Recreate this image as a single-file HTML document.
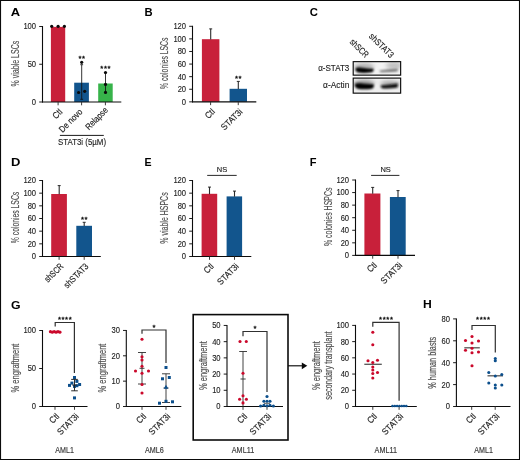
<!DOCTYPE html>
<html lang="en"><head><meta charset="utf-8"><title>Figure</title>
<style>
html,body{margin:0;padding:0;background:#fff;}
body{width:520px;height:460px;overflow:hidden;}
svg{display:block;font-family:"Liberation Sans",Arial,Helvetica,sans-serif;}
</style></head><body>
<svg width="520" height="460" viewBox="0 0 520 460">
<rect width="520" height="460" fill="#fff"/>
<line x1="0" y1="0.52" x2="520" y2="0.52" stroke="#0a0a0a" stroke-width="1.06" />
<line x1="0.54" y1="0" x2="0.54" y2="460" stroke="#0a0a0a" stroke-width="1.06" />
<line x1="0" y1="459.46" x2="520" y2="459.46" stroke="#0a0a0a" stroke-width="1.06" />
<line x1="519.48" y1="0" x2="519.48" y2="460" stroke="#0a0a0a" stroke-width="1.06" />
<text transform="translate(10.83 15.85) scale(1.099 1)" font-size="11.8" font-weight="bold" fill="#000">A</text>
<text transform="translate(144.5 15.85) scale(0.952 1)" font-size="11.8" font-weight="bold" fill="#000">B</text>
<text transform="translate(309.69 15.8) scale(0.959 1)" font-size="11.8" font-weight="bold" fill="#000">C</text>
<text transform="translate(11 166.15) scale(1.100 1)" font-size="11.8" font-weight="bold" fill="#000">D</text>
<text transform="translate(144.59 166.15) scale(0.899 1)" font-size="11.8" font-weight="bold" fill="#000">E</text>
<text transform="translate(309.81 166.15) scale(0.936 1)" font-size="11.8" font-weight="bold" fill="#000">F</text>
<text transform="translate(11.05 308.6) scale(1.042 1)" font-size="11.8" font-weight="bold" fill="#000">G</text>
<text transform="translate(423.04 308.3) scale(1.030 1)" font-size="11.8" font-weight="bold" fill="#000">H</text>
<rect x="50.9" y="26.9" width="14.3" height="75.1" fill="#C8203A" />
<rect x="74.2" y="82.7" width="14.7" height="19.3" fill="#12558D" />
<rect x="98.2" y="83.5" width="14.5" height="18.5" fill="#37B34A" />
<line x1="42.5" y1="26" x2="42.5" y2="102.5" stroke="#0c0c0c" stroke-width="1.1" />
<line x1="42" y1="102" x2="121.3" y2="102" stroke="#0c0c0c" stroke-width="1.15" />
<line x1="39.2" y1="26.5" x2="42.5" y2="26.5" stroke="#111" stroke-width="0.95" />
<text transform="translate(36.1 29.4) scale(0.930 1)" font-size="8.2" text-anchor="end" fill="#1c1c1c" stroke="#1c1c1c" stroke-width="0.12">100</text>
<line x1="39.2" y1="64.25" x2="42.5" y2="64.25" stroke="#111" stroke-width="0.95" />
<text transform="translate(36.1 67.15) scale(0.930 1)" font-size="8.2" text-anchor="end" fill="#1c1c1c" stroke="#1c1c1c" stroke-width="0.12">50</text>
<line x1="39.2" y1="102" x2="42.5" y2="102" stroke="#111" stroke-width="0.95" />
<text transform="translate(36.1 104.9) scale(0.930 1)" font-size="8.2" text-anchor="end" fill="#1c1c1c" stroke="#1c1c1c" stroke-width="0.12">0</text>
<line x1="58.1" y1="102" x2="58.1" y2="105.3" stroke="#333" stroke-width="0.95" />
<text transform="translate(62.9 112.5) rotate(-45) scale(0.891 1)" font-size="9.0" text-anchor="end" fill="#1c1c1c" stroke="#1c1c1c" stroke-width="0.15">Ctl</text>
<line x1="81.6" y1="102" x2="81.6" y2="105.3" stroke="#333" stroke-width="0.95" />
<text transform="translate(83 112.4) rotate(-45) scale(0.865 1)" font-size="9.0" text-anchor="end" fill="#1c1c1c" stroke="#1c1c1c" stroke-width="0.15">De novo</text>
<line x1="105.4" y1="102" x2="105.4" y2="105.3" stroke="#333" stroke-width="0.95" />
<text transform="translate(108.5 110.8) rotate(-45) scale(0.842 1)" font-size="9.0" text-anchor="end" fill="#1c1c1c" stroke="#1c1c1c" stroke-width="0.15">Relapse</text>
<text transform="translate(18.5 63.6) rotate(-90) scale(0.680 1)" font-size="10.4" text-anchor="middle" fill="#505050" stroke="#505050" stroke-width="0.16">% viable LSCs</text>
<circle cx="51.7" cy="26.3" r="1.6" fill="#0a0a0a"/>
<circle cx="58.1" cy="26.3" r="1.6" fill="#0a0a0a"/>
<circle cx="64.4" cy="26.3" r="1.6" fill="#0a0a0a"/>
<line x1="81.7" y1="64.7" x2="81.7" y2="99.3" stroke="#111" stroke-width="0.85" />
<line x1="80.3" y1="64.7" x2="83.1" y2="64.7" stroke="#111" stroke-width="0.85" />
<line x1="80.3" y1="99.3" x2="83.1" y2="99.3" stroke="#111" stroke-width="0.85" />
<circle cx="81.7" cy="62.3" r="1.6" fill="#0a0a0a"/>
<circle cx="78.6" cy="92.5" r="1.6" fill="#0a0a0a"/>
<circle cx="84.7" cy="91.3" r="1.6" fill="#0a0a0a"/>
<line x1="105.5" y1="72.6" x2="105.5" y2="92.5" stroke="#111" stroke-width="0.85" />
<line x1="104.1" y1="72.6" x2="106.9" y2="72.6" stroke="#111" stroke-width="0.85" />
<line x1="104.1" y1="92.5" x2="106.9" y2="92.5" stroke="#111" stroke-width="0.85" />
<circle cx="105.5" cy="72.6" r="1.6" fill="#0a0a0a"/>
<circle cx="105.5" cy="84.4" r="1.6" fill="#0a0a0a"/>
<circle cx="105.5" cy="92.4" r="1.6" fill="#0a0a0a"/>
<text x="82.1" y="60.6" font-size="7.7" text-anchor="middle" letter-spacing="0.6" fill="#0a0a0a" stroke="#0a0a0a" stroke-width="0.3">**</text>
<text x="105.7" y="70.5" font-size="7.7" text-anchor="middle" letter-spacing="0.6" fill="#0a0a0a" stroke="#0a0a0a" stroke-width="0.3">***</text>
<line x1="59.9" y1="135.4" x2="103.8" y2="135.4" stroke="#1a1a1a" stroke-width="1" />
<text transform="translate(82 145.4) scale(0.909 1)" font-size="8.7" text-anchor="middle" fill="#1c1c1c" stroke="#1c1c1c" stroke-width="0.12">STAT3i (5µM)</text>
<rect x="201.9" y="39.2" width="17.5" height="62.6" fill="#C8203A" />
<rect x="229.6" y="88.8" width="17.4" height="13" fill="#12558D" />
<line x1="210.7" y1="28.8" x2="210.7" y2="39.5" stroke="#2c2c2c" stroke-width="1.1" />
<line x1="209.2" y1="28.9" x2="212.2" y2="28.9" stroke="#2c2c2c" stroke-width="1.0" />
<line x1="238.3" y1="81.3" x2="238.3" y2="89" stroke="#2c2c2c" stroke-width="1.1" />
<line x1="236.8" y1="81.4" x2="239.8" y2="81.4" stroke="#2c2c2c" stroke-width="1.0" />
<line x1="192.5" y1="25.8" x2="192.5" y2="102.35" stroke="#0c0c0c" stroke-width="1.1" />
<line x1="192" y1="101.85" x2="256.3" y2="101.85" stroke="#0c0c0c" stroke-width="1.15" />
<line x1="189.2" y1="101.85" x2="192.5" y2="101.85" stroke="#111" stroke-width="0.95" />
<text transform="translate(186.1 104.75) scale(0.930 1)" font-size="8.2" text-anchor="end" fill="#1c1c1c" stroke="#1c1c1c" stroke-width="0.12">0</text>
<line x1="189.2" y1="89.26" x2="192.5" y2="89.26" stroke="#111" stroke-width="0.95" />
<text transform="translate(186.1 92.16) scale(0.930 1)" font-size="8.2" text-anchor="end" fill="#1c1c1c" stroke="#1c1c1c" stroke-width="0.12">20</text>
<line x1="189.2" y1="76.67" x2="192.5" y2="76.67" stroke="#111" stroke-width="0.95" />
<text transform="translate(186.1 79.57) scale(0.930 1)" font-size="8.2" text-anchor="end" fill="#1c1c1c" stroke="#1c1c1c" stroke-width="0.12">40</text>
<line x1="189.2" y1="64.07" x2="192.5" y2="64.07" stroke="#111" stroke-width="0.95" />
<text transform="translate(186.1 66.97) scale(0.930 1)" font-size="8.2" text-anchor="end" fill="#1c1c1c" stroke="#1c1c1c" stroke-width="0.12">60</text>
<line x1="189.2" y1="51.48" x2="192.5" y2="51.48" stroke="#111" stroke-width="0.95" />
<text transform="translate(186.1 54.38) scale(0.930 1)" font-size="8.2" text-anchor="end" fill="#1c1c1c" stroke="#1c1c1c" stroke-width="0.12">80</text>
<line x1="189.2" y1="38.89" x2="192.5" y2="38.89" stroke="#111" stroke-width="0.95" />
<text transform="translate(186.1 41.79) scale(0.930 1)" font-size="8.2" text-anchor="end" fill="#1c1c1c" stroke="#1c1c1c" stroke-width="0.12">100</text>
<line x1="189.2" y1="26.3" x2="192.5" y2="26.3" stroke="#111" stroke-width="0.95" />
<text transform="translate(186.1 29.2) scale(0.930 1)" font-size="8.2" text-anchor="end" fill="#1c1c1c" stroke="#1c1c1c" stroke-width="0.12">120</text>
<line x1="210.6" y1="101.85" x2="210.6" y2="105.15" stroke="#333" stroke-width="0.95" />
<text transform="translate(215.4 112.35) rotate(-45) scale(0.891 1)" font-size="9.0" text-anchor="end" fill="#1c1c1c" stroke="#1c1c1c" stroke-width="0.15">Ctl</text>
<line x1="238.25" y1="101.85" x2="238.25" y2="105.15" stroke="#333" stroke-width="0.95" />
<text transform="translate(243.05 112.35) rotate(-45) scale(0.914 1)" font-size="9.0" text-anchor="end" fill="#1c1c1c" stroke="#1c1c1c" stroke-width="0.15">STAT3i</text>
<text transform="translate(168.1 63.3) rotate(-90) scale(0.655 1)" font-size="10.4" text-anchor="middle" fill="#505050" stroke="#505050" stroke-width="0.16">% colonies LSCs</text>
<text x="238.6" y="80.8" font-size="7.7" text-anchor="middle" letter-spacing="0.6" fill="#0a0a0a" stroke="#0a0a0a" stroke-width="0.3">**</text>
<defs><filter id="bl" x="-30%" y="-80%" width="160%" height="260%"><feGaussianBlur stdDeviation="1.0 0.8"/></filter><filter id="hz" x="-30%" y="-100%" width="160%" height="300%"><feGaussianBlur stdDeviation="2.2 1.6"/></filter><clipPath id="c1"><rect x="353.2" y="61" width="47.6" height="14.4"/></clipPath><clipPath id="c2"><rect x="353.2" y="78" width="47.6" height="15.5"/></clipPath></defs>
<rect x="353.2" y="61" width="47.6" height="14.4" fill="#f3f3f3" />
<g clip-path="url(#c1)"><g filter="url(#hz)"><ellipse cx="364" cy="66" rx="10" ry="3" fill="#b9b9b9"/><ellipse cx="394" cy="65.5" rx="8" ry="3.4" fill="#c4c4c4"/></g><g filter="url(#bl)"><path d="M355.4 68.2 Q357.5 66.6 363 67.8 Q369 69 373.4 68.4 Q374.4 71.2 371.6 72.3 Q364 73.4 358 72.5 Q354.8 71 355.4 68.2Z" fill="#050505"/><path d="M379.6 70.5 Q388 69.2 397.6 68.6 Q398.4 70.6 397.2 71.6 Q388 72.5 380.4 72.2 Q379 71.4 379.6 70.5Z" fill="#787878"/></g></g>
<rect x="353.2" y="78" width="47.6" height="15.5" fill="#efefef" />
<g clip-path="url(#c2)"><g filter="url(#hz)"><ellipse cx="364" cy="82.5" rx="10.5" ry="3" fill="#a8a8a8"/><ellipse cx="390" cy="83" rx="9.5" ry="2.8" fill="#b8b8b8"/></g><g filter="url(#bl)"><path d="M354.8 83.8 Q359 82.4 364 83.5 Q369.5 84.2 373.6 83.9 Q374.8 87.5 371.8 88.7 Q364 90 357.6 88.7 Q354 87.2 354.8 83.8Z" fill="#000"/><path d="M380.8 85.2 Q389 84.3 397.6 83.4 Q398.8 86.7 396.6 87.7 Q389 88.9 382 88.3 Q380 87.1 380.8 85.2Z" fill="#0a0a0a"/></g></g>
<rect x="353.2" y="61.65" width="47.45" height="13.5" fill="none" stroke="#0a0a0a" stroke-width="1.15"/>
<rect x="353.2" y="78.1" width="47.45" height="15.05" fill="none" stroke="#0a0a0a" stroke-width="1.15"/>
<text transform="translate(349.3 71.1) scale(0.915 1)" font-size="8.8" text-anchor="end" fill="#1c1c1c" stroke="#1c1c1c" stroke-width="0.12">α-STAT3</text>
<text transform="translate(349.3 87.9) scale(0.950 1)" font-size="8.8" text-anchor="end" fill="#1c1c1c" stroke="#1c1c1c" stroke-width="0.12">α-Actin</text>
<text transform="translate(365.1 58.2) rotate(45) scale(0.786 1)" font-size="9.0" text-anchor="end" fill="#1c1c1c" stroke="#1c1c1c" stroke-width="0.15">shSCR</text>
<text transform="translate(390.2 58.4) rotate(45) scale(0.846 1)" font-size="9.0" text-anchor="end" fill="#1c1c1c" stroke="#1c1c1c" stroke-width="0.15">shSTAT3</text>
<rect x="51.2" y="194" width="15.7" height="62.5" fill="#C8203A" />
<rect x="76.3" y="225.8" width="15.7" height="30.7" fill="#12558D" />
<line x1="59.2" y1="185.5" x2="59.2" y2="194.2" stroke="#2c2c2c" stroke-width="1.1" />
<line x1="57.7" y1="185.6" x2="60.7" y2="185.6" stroke="#2c2c2c" stroke-width="1.0" />
<line x1="84.2" y1="222.2" x2="84.2" y2="226" stroke="#2c2c2c" stroke-width="1.1" />
<line x1="82.7" y1="222.3" x2="85.7" y2="222.3" stroke="#2c2c2c" stroke-width="1.0" />
<line x1="42.5" y1="180" x2="42.5" y2="257" stroke="#0c0c0c" stroke-width="1.1" />
<line x1="42" y1="256.5" x2="100.8" y2="256.5" stroke="#0c0c0c" stroke-width="1.15" />
<line x1="39.2" y1="256.5" x2="42.5" y2="256.5" stroke="#111" stroke-width="0.95" />
<text transform="translate(36.1 259.4) scale(0.930 1)" font-size="8.2" text-anchor="end" fill="#1c1c1c" stroke="#1c1c1c" stroke-width="0.12">0</text>
<line x1="39.2" y1="243.83" x2="42.5" y2="243.83" stroke="#111" stroke-width="0.95" />
<text transform="translate(36.1 246.73) scale(0.930 1)" font-size="8.2" text-anchor="end" fill="#1c1c1c" stroke="#1c1c1c" stroke-width="0.12">20</text>
<line x1="39.2" y1="231.17" x2="42.5" y2="231.17" stroke="#111" stroke-width="0.95" />
<text transform="translate(36.1 234.07) scale(0.930 1)" font-size="8.2" text-anchor="end" fill="#1c1c1c" stroke="#1c1c1c" stroke-width="0.12">40</text>
<line x1="39.2" y1="218.5" x2="42.5" y2="218.5" stroke="#111" stroke-width="0.95" />
<text transform="translate(36.1 221.4) scale(0.930 1)" font-size="8.2" text-anchor="end" fill="#1c1c1c" stroke="#1c1c1c" stroke-width="0.12">60</text>
<line x1="39.2" y1="205.83" x2="42.5" y2="205.83" stroke="#111" stroke-width="0.95" />
<text transform="translate(36.1 208.73) scale(0.930 1)" font-size="8.2" text-anchor="end" fill="#1c1c1c" stroke="#1c1c1c" stroke-width="0.12">80</text>
<line x1="39.2" y1="193.17" x2="42.5" y2="193.17" stroke="#111" stroke-width="0.95" />
<text transform="translate(36.1 196.07) scale(0.930 1)" font-size="8.2" text-anchor="end" fill="#1c1c1c" stroke="#1c1c1c" stroke-width="0.12">100</text>
<line x1="39.2" y1="180.5" x2="42.5" y2="180.5" stroke="#111" stroke-width="0.95" />
<text transform="translate(36.1 183.4) scale(0.930 1)" font-size="8.2" text-anchor="end" fill="#1c1c1c" stroke="#1c1c1c" stroke-width="0.12">120</text>
<line x1="59.1" y1="256.5" x2="59.1" y2="259.8" stroke="#333" stroke-width="0.95" />
<text transform="translate(63.9 267) rotate(-45) scale(0.786 1)" font-size="9.0" text-anchor="end" fill="#1c1c1c" stroke="#1c1c1c" stroke-width="0.15">shSCR</text>
<line x1="84.2" y1="256.5" x2="84.2" y2="259.8" stroke="#333" stroke-width="0.95" />
<text transform="translate(89 267) rotate(-45) scale(0.846 1)" font-size="9.0" text-anchor="end" fill="#1c1c1c" stroke="#1c1c1c" stroke-width="0.15">shSTAT3</text>
<text transform="translate(18.5 217.5) rotate(-90) scale(0.655 1)" font-size="10.4" text-anchor="middle" fill="#505050" stroke="#505050" stroke-width="0.16">% colonies LSCs</text>
<text x="84.5" y="221.6" font-size="7.7" text-anchor="middle" letter-spacing="0.6" fill="#0a0a0a" stroke="#0a0a0a" stroke-width="0.3">**</text>
<rect x="201.6" y="193.8" width="15.6" height="62.7" fill="#C8203A" />
<rect x="226.6" y="196.4" width="15.5" height="60.1" fill="#12558D" />
<line x1="209.5" y1="187" x2="209.5" y2="194.2" stroke="#2c2c2c" stroke-width="1.1" />
<line x1="208" y1="187.1" x2="211" y2="187.1" stroke="#2c2c2c" stroke-width="1.0" />
<line x1="234.5" y1="191" x2="234.5" y2="196.7" stroke="#2c2c2c" stroke-width="1.1" />
<line x1="233" y1="191.1" x2="236" y2="191.1" stroke="#2c2c2c" stroke-width="1.0" />
<line x1="192.5" y1="180" x2="192.5" y2="257" stroke="#0c0c0c" stroke-width="1.1" />
<line x1="192" y1="256.5" x2="251.3" y2="256.5" stroke="#0c0c0c" stroke-width="1.15" />
<line x1="189.2" y1="256.5" x2="192.5" y2="256.5" stroke="#111" stroke-width="0.95" />
<text transform="translate(186.1 259.4) scale(0.930 1)" font-size="8.2" text-anchor="end" fill="#1c1c1c" stroke="#1c1c1c" stroke-width="0.12">0</text>
<line x1="189.2" y1="243.83" x2="192.5" y2="243.83" stroke="#111" stroke-width="0.95" />
<text transform="translate(186.1 246.73) scale(0.930 1)" font-size="8.2" text-anchor="end" fill="#1c1c1c" stroke="#1c1c1c" stroke-width="0.12">20</text>
<line x1="189.2" y1="231.17" x2="192.5" y2="231.17" stroke="#111" stroke-width="0.95" />
<text transform="translate(186.1 234.07) scale(0.930 1)" font-size="8.2" text-anchor="end" fill="#1c1c1c" stroke="#1c1c1c" stroke-width="0.12">40</text>
<line x1="189.2" y1="218.5" x2="192.5" y2="218.5" stroke="#111" stroke-width="0.95" />
<text transform="translate(186.1 221.4) scale(0.930 1)" font-size="8.2" text-anchor="end" fill="#1c1c1c" stroke="#1c1c1c" stroke-width="0.12">60</text>
<line x1="189.2" y1="205.83" x2="192.5" y2="205.83" stroke="#111" stroke-width="0.95" />
<text transform="translate(186.1 208.73) scale(0.930 1)" font-size="8.2" text-anchor="end" fill="#1c1c1c" stroke="#1c1c1c" stroke-width="0.12">80</text>
<line x1="189.2" y1="193.17" x2="192.5" y2="193.17" stroke="#111" stroke-width="0.95" />
<text transform="translate(186.1 196.07) scale(0.930 1)" font-size="8.2" text-anchor="end" fill="#1c1c1c" stroke="#1c1c1c" stroke-width="0.12">100</text>
<line x1="189.2" y1="180.5" x2="192.5" y2="180.5" stroke="#111" stroke-width="0.95" />
<text transform="translate(186.1 183.4) scale(0.930 1)" font-size="8.2" text-anchor="end" fill="#1c1c1c" stroke="#1c1c1c" stroke-width="0.12">120</text>
<line x1="209.5" y1="256.5" x2="209.5" y2="259.8" stroke="#333" stroke-width="0.95" />
<text transform="translate(214.3 267) rotate(-45) scale(0.891 1)" font-size="9.0" text-anchor="end" fill="#1c1c1c" stroke="#1c1c1c" stroke-width="0.15">Ctl</text>
<line x1="234.5" y1="256.5" x2="234.5" y2="259.8" stroke="#333" stroke-width="0.95" />
<text transform="translate(239.3 267) rotate(-45) scale(0.914 1)" font-size="9.0" text-anchor="end" fill="#1c1c1c" stroke="#1c1c1c" stroke-width="0.15">STAT3i</text>
<text transform="translate(168.1 218) rotate(-90) scale(0.672 1)" font-size="10.4" text-anchor="middle" fill="#505050" stroke="#505050" stroke-width="0.16">% viable HSPCs</text>
<line x1="207.2" y1="175.4" x2="236.7" y2="175.4" stroke="#111" stroke-width="0.9" />
<text transform="translate(222.05 172) scale(0.948 1)" font-size="7.9" text-anchor="middle" fill="#1c1c1c" stroke="#1c1c1c" stroke-width="0.15">NS</text>
<rect x="364.4" y="193.5" width="16" height="61.9" fill="#C8203A" />
<rect x="389.9" y="197" width="15.8" height="58.4" fill="#12558D" />
<line x1="372.7" y1="187.3" x2="372.7" y2="193.7" stroke="#2c2c2c" stroke-width="1.1" />
<line x1="371.2" y1="187.4" x2="374.2" y2="187.4" stroke="#2c2c2c" stroke-width="1.0" />
<line x1="398" y1="190.5" x2="398" y2="197.2" stroke="#2c2c2c" stroke-width="1.1" />
<line x1="396.5" y1="190.6" x2="399.5" y2="190.6" stroke="#2c2c2c" stroke-width="1.0" />
<line x1="355.5" y1="179.5" x2="355.5" y2="255.9" stroke="#0c0c0c" stroke-width="1.1" />
<line x1="355" y1="255.4" x2="415" y2="255.4" stroke="#0c0c0c" stroke-width="1.15" />
<line x1="352.2" y1="255.4" x2="355.5" y2="255.4" stroke="#111" stroke-width="0.95" />
<text transform="translate(349.1 258.3) scale(0.930 1)" font-size="8.2" text-anchor="end" fill="#1c1c1c" stroke="#1c1c1c" stroke-width="0.12">0</text>
<line x1="352.2" y1="242.83" x2="355.5" y2="242.83" stroke="#111" stroke-width="0.95" />
<text transform="translate(349.1 245.73) scale(0.930 1)" font-size="8.2" text-anchor="end" fill="#1c1c1c" stroke="#1c1c1c" stroke-width="0.12">20</text>
<line x1="352.2" y1="230.27" x2="355.5" y2="230.27" stroke="#111" stroke-width="0.95" />
<text transform="translate(349.1 233.17) scale(0.930 1)" font-size="8.2" text-anchor="end" fill="#1c1c1c" stroke="#1c1c1c" stroke-width="0.12">40</text>
<line x1="352.2" y1="217.7" x2="355.5" y2="217.7" stroke="#111" stroke-width="0.95" />
<text transform="translate(349.1 220.6) scale(0.930 1)" font-size="8.2" text-anchor="end" fill="#1c1c1c" stroke="#1c1c1c" stroke-width="0.12">60</text>
<line x1="352.2" y1="205.13" x2="355.5" y2="205.13" stroke="#111" stroke-width="0.95" />
<text transform="translate(349.1 208.03) scale(0.930 1)" font-size="8.2" text-anchor="end" fill="#1c1c1c" stroke="#1c1c1c" stroke-width="0.12">80</text>
<line x1="352.2" y1="192.57" x2="355.5" y2="192.57" stroke="#111" stroke-width="0.95" />
<text transform="translate(349.1 195.47) scale(0.930 1)" font-size="8.2" text-anchor="end" fill="#1c1c1c" stroke="#1c1c1c" stroke-width="0.12">100</text>
<line x1="352.2" y1="180" x2="355.5" y2="180" stroke="#111" stroke-width="0.95" />
<text transform="translate(349.1 182.9) scale(0.930 1)" font-size="8.2" text-anchor="end" fill="#1c1c1c" stroke="#1c1c1c" stroke-width="0.12">120</text>
<line x1="372.7" y1="255.4" x2="372.7" y2="258.7" stroke="#333" stroke-width="0.95" />
<text transform="translate(377.5 265.9) rotate(-45) scale(0.891 1)" font-size="9.0" text-anchor="end" fill="#1c1c1c" stroke="#1c1c1c" stroke-width="0.15">Ctl</text>
<line x1="398" y1="255.4" x2="398" y2="258.7" stroke="#333" stroke-width="0.95" />
<text transform="translate(402.8 265.9) rotate(-45) scale(0.914 1)" font-size="9.0" text-anchor="end" fill="#1c1c1c" stroke="#1c1c1c" stroke-width="0.15">STAT3i</text>
<text transform="translate(331.7 216.8) rotate(-90) scale(0.670 1)" font-size="10.4" text-anchor="middle" fill="#505050" stroke="#505050" stroke-width="0.16">% colonies HSPCs</text>
<line x1="371.1" y1="175.4" x2="399.4" y2="175.4" stroke="#111" stroke-width="0.9" />
<text transform="translate(385.6 172) scale(0.948 1)" font-size="7.9" text-anchor="middle" fill="#1c1c1c" stroke="#1c1c1c" stroke-width="0.15">NS</text>
<line x1="42.5" y1="330" x2="42.5" y2="407" stroke="#0c0c0c" stroke-width="1.1" />
<line x1="42" y1="406.5" x2="87.5" y2="406.5" stroke="#0c0c0c" stroke-width="1.15" />
<line x1="39.2" y1="330.5" x2="42.5" y2="330.5" stroke="#111" stroke-width="0.95" />
<text transform="translate(36.1 333.4) scale(0.930 1)" font-size="8.2" text-anchor="end" fill="#1c1c1c" stroke="#1c1c1c" stroke-width="0.12">100</text>
<line x1="39.2" y1="368.5" x2="42.5" y2="368.5" stroke="#111" stroke-width="0.95" />
<text transform="translate(36.1 371.4) scale(0.930 1)" font-size="8.2" text-anchor="end" fill="#1c1c1c" stroke="#1c1c1c" stroke-width="0.12">50</text>
<line x1="39.2" y1="406.5" x2="42.5" y2="406.5" stroke="#111" stroke-width="0.95" />
<text transform="translate(36.1 409.4) scale(0.930 1)" font-size="8.2" text-anchor="end" fill="#1c1c1c" stroke="#1c1c1c" stroke-width="0.12">0</text>
<line x1="55" y1="406.5" x2="55" y2="409.8" stroke="#333" stroke-width="0.95" />
<text transform="translate(59.8 417) rotate(-45) scale(0.891 1)" font-size="9.0" text-anchor="end" fill="#1c1c1c" stroke="#1c1c1c" stroke-width="0.15">Ctl</text>
<line x1="74.5" y1="406.5" x2="74.5" y2="409.8" stroke="#333" stroke-width="0.95" />
<text transform="translate(79.3 417) rotate(-45) scale(0.914 1)" font-size="9.0" text-anchor="end" fill="#1c1c1c" stroke="#1c1c1c" stroke-width="0.15">STAT3i</text>
<text transform="translate(18.5 368) rotate(-90) scale(0.722 1)" font-size="10.4" text-anchor="middle" fill="#505050" stroke="#505050" stroke-width="0.16">% engraftment</text>
<line x1="49.5" y1="331.7" x2="61.3" y2="331.7" stroke="#CB082B" stroke-width="0.8" />
<circle cx="50.4" cy="331.65" r="1.55" fill="#CB082B"/>
<circle cx="52.3" cy="332.15" r="1.55" fill="#CB082B"/>
<circle cx="54.2" cy="331.65" r="1.55" fill="#CB082B"/>
<circle cx="56.1" cy="332.15" r="1.55" fill="#CB082B"/>
<circle cx="58" cy="331.65" r="1.55" fill="#CB082B"/>
<circle cx="59.9" cy="332.15" r="1.55" fill="#CB082B"/>
<polyline points="55.2,326.4 55.2,322.5 74.4,322.5 74.4,372.9" fill="none" stroke="#303030" stroke-width="1.2"/>
<text x="65.1" y="322.4" font-size="7.7" text-anchor="middle" letter-spacing="0.6" fill="#0a0a0a" stroke="#0a0a0a" stroke-width="0.3">****</text>
<rect x="73" y="376" width="3.0" height="3.0" fill="#0C4F8C"/>
<rect x="75.4" y="379.9" width="3.0" height="3.0" fill="#0C4F8C"/>
<rect x="70.4" y="381.6" width="3.0" height="3.0" fill="#0C4F8C"/>
<rect x="68" y="383.9" width="3.0" height="3.0" fill="#0C4F8C"/>
<rect x="78.1" y="383" width="3.0" height="3.0" fill="#0C4F8C"/>
<rect x="73" y="384.9" width="3.0" height="3.0" fill="#0C4F8C"/>
<rect x="75.4" y="384.2" width="3.0" height="3.0" fill="#0C4F8C"/>
<rect x="73" y="396.4" width="3.0" height="3.0" fill="#0C4F8C"/>
<line x1="74.5" y1="379.4" x2="74.5" y2="390.8" stroke="#222" stroke-width="0.95" />
<line x1="71.2" y1="379.4" x2="77.8" y2="379.4" stroke="#222" stroke-width="0.95" />
<line x1="71.2" y1="390.8" x2="77.8" y2="390.8" stroke="#222" stroke-width="0.95" />
<line x1="72.2" y1="385" x2="76.8" y2="385" stroke="#222" stroke-width="0.9" />
<text transform="translate(64.6 453.3) scale(0.749 1)" font-size="9.5" text-anchor="middle" fill="#3c3c3c" stroke="#3c3c3c" stroke-width="0.2">AML1</text>
<line x1="126.3" y1="329.95" x2="126.3" y2="407" stroke="#0c0c0c" stroke-width="1.1" />
<line x1="125.8" y1="406.5" x2="181.3" y2="406.5" stroke="#0c0c0c" stroke-width="1.15" />
<line x1="123" y1="330.45" x2="126.3" y2="330.45" stroke="#111" stroke-width="0.95" />
<text transform="translate(119.9 333.35) scale(0.930 1)" font-size="8.2" text-anchor="end" fill="#1c1c1c" stroke="#1c1c1c" stroke-width="0.12">30</text>
<line x1="123" y1="355.8" x2="126.3" y2="355.8" stroke="#111" stroke-width="0.95" />
<text transform="translate(119.9 358.7) scale(0.930 1)" font-size="8.2" text-anchor="end" fill="#1c1c1c" stroke="#1c1c1c" stroke-width="0.12">20</text>
<line x1="123" y1="381.15" x2="126.3" y2="381.15" stroke="#111" stroke-width="0.95" />
<text transform="translate(119.9 384.05) scale(0.930 1)" font-size="8.2" text-anchor="end" fill="#1c1c1c" stroke="#1c1c1c" stroke-width="0.12">10</text>
<line x1="123" y1="406.5" x2="126.3" y2="406.5" stroke="#111" stroke-width="0.95" />
<text transform="translate(119.9 409.4) scale(0.930 1)" font-size="8.2" text-anchor="end" fill="#1c1c1c" stroke="#1c1c1c" stroke-width="0.12">0</text>
<line x1="142" y1="406.5" x2="142" y2="409.8" stroke="#333" stroke-width="0.95" />
<text transform="translate(146.8 417) rotate(-45) scale(0.891 1)" font-size="9.0" text-anchor="end" fill="#1c1c1c" stroke="#1c1c1c" stroke-width="0.15">Ctl</text>
<line x1="166" y1="406.5" x2="166" y2="409.8" stroke="#333" stroke-width="0.95" />
<text transform="translate(170.8 417) rotate(-45) scale(0.914 1)" font-size="9.0" text-anchor="end" fill="#1c1c1c" stroke="#1c1c1c" stroke-width="0.15">STAT3i</text>
<text transform="translate(106 368) rotate(-90) scale(0.722 1)" font-size="10.4" text-anchor="middle" fill="#505050" stroke="#505050" stroke-width="0.16">% engraftment</text>
<line x1="142" y1="352.5" x2="142" y2="384" stroke="#2e2e2e" stroke-width="0.9" />
<line x1="138" y1="352.5" x2="146" y2="352.5" stroke="#2e2e2e" stroke-width="0.9" />
<line x1="138" y1="384" x2="146" y2="384" stroke="#2e2e2e" stroke-width="0.9" />
<line x1="139.5" y1="368.3" x2="144.5" y2="368.3" stroke="#2e2e2e" stroke-width="0.9" />
<circle cx="142" cy="339.3" r="1.55" fill="#CB082B"/>
<circle cx="142" cy="356.8" r="1.55" fill="#CB082B"/>
<circle cx="142" cy="360" r="1.55" fill="#CB082B"/>
<circle cx="142" cy="366.2" r="1.55" fill="#CB082B"/>
<circle cx="135.5" cy="371" r="1.55" fill="#CB082B"/>
<circle cx="142" cy="373.3" r="1.55" fill="#CB082B"/>
<circle cx="148.5" cy="371" r="1.55" fill="#CB082B"/>
<circle cx="142" cy="384.5" r="1.55" fill="#CB082B"/>
<circle cx="142" cy="393" r="1.55" fill="#CB082B"/>
<polyline points="142,333.8 142,330 166,330 166,363" fill="none" stroke="#303030" stroke-width="1.2"/>
<text x="154.3" y="329.9" font-size="7.7" text-anchor="middle" letter-spacing="0.6" fill="#0a0a0a" stroke="#0a0a0a" stroke-width="0.3">*</text>
<line x1="166" y1="373.8" x2="166" y2="402.5" stroke="#2e2e2e" stroke-width="0.9" />
<line x1="162" y1="373.8" x2="170" y2="373.8" stroke="#2e2e2e" stroke-width="0.9" />
<line x1="162" y1="402.5" x2="170" y2="402.5" stroke="#2e2e2e" stroke-width="0.9" />
<line x1="163.5" y1="388" x2="168.5" y2="388" stroke="#2e2e2e" stroke-width="0.9" />
<rect x="164.5" y="366" width="3.0" height="3.0" fill="#0C4F8C"/>
<rect x="161" y="377.3" width="3.0" height="3.0" fill="#0C4F8C"/>
<rect x="167.8" y="376" width="3.0" height="3.0" fill="#0C4F8C"/>
<rect x="158" y="401.7" width="3.0" height="3.0" fill="#0C4F8C"/>
<rect x="164.5" y="399.8" width="3.0" height="3.0" fill="#0C4F8C"/>
<rect x="171" y="400.3" width="3.0" height="3.0" fill="#0C4F8C"/>
<polygon points="166,384.8 168.3,388.7 163.7,388.7" fill="#0C4F8C"/>
<text transform="translate(154.3 453.3) scale(0.758 1)" font-size="9.5" text-anchor="middle" fill="#3c3c3c" stroke="#3c3c3c" stroke-width="0.2">AML6</text>
<rect x="193.2" y="314.6" width="94.8" height="125.4" fill="none" stroke="#0a0a0a" stroke-width="1.6"/>
<line x1="227" y1="324.95" x2="227" y2="407" stroke="#0c0c0c" stroke-width="1.1" />
<line x1="226.5" y1="406.5" x2="283" y2="406.5" stroke="#0c0c0c" stroke-width="1.15" />
<line x1="223.7" y1="325.45" x2="227" y2="325.45" stroke="#111" stroke-width="0.95" />
<text transform="translate(220.6 328.35) scale(0.930 1)" font-size="8.2" text-anchor="end" fill="#1c1c1c" stroke="#1c1c1c" stroke-width="0.12">50</text>
<line x1="223.7" y1="341.66" x2="227" y2="341.66" stroke="#111" stroke-width="0.95" />
<text transform="translate(220.6 344.56) scale(0.930 1)" font-size="8.2" text-anchor="end" fill="#1c1c1c" stroke="#1c1c1c" stroke-width="0.12">40</text>
<line x1="223.7" y1="357.87" x2="227" y2="357.87" stroke="#111" stroke-width="0.95" />
<text transform="translate(220.6 360.77) scale(0.930 1)" font-size="8.2" text-anchor="end" fill="#1c1c1c" stroke="#1c1c1c" stroke-width="0.12">30</text>
<line x1="223.7" y1="374.08" x2="227" y2="374.08" stroke="#111" stroke-width="0.95" />
<text transform="translate(220.6 376.98) scale(0.930 1)" font-size="8.2" text-anchor="end" fill="#1c1c1c" stroke="#1c1c1c" stroke-width="0.12">20</text>
<line x1="223.7" y1="390.29" x2="227" y2="390.29" stroke="#111" stroke-width="0.95" />
<text transform="translate(220.6 393.19) scale(0.930 1)" font-size="8.2" text-anchor="end" fill="#1c1c1c" stroke="#1c1c1c" stroke-width="0.12">10</text>
<line x1="223.7" y1="406.5" x2="227" y2="406.5" stroke="#111" stroke-width="0.95" />
<text transform="translate(220.6 409.4) scale(0.930 1)" font-size="8.2" text-anchor="end" fill="#1c1c1c" stroke="#1c1c1c" stroke-width="0.12">0</text>
<line x1="243" y1="406.5" x2="243" y2="409.8" stroke="#333" stroke-width="0.95" />
<text transform="translate(247.8 417) rotate(-45) scale(0.891 1)" font-size="9.0" text-anchor="end" fill="#1c1c1c" stroke="#1c1c1c" stroke-width="0.15">Ctl</text>
<line x1="267" y1="406.5" x2="267" y2="409.8" stroke="#333" stroke-width="0.95" />
<text transform="translate(271.8 417) rotate(-45) scale(0.914 1)" font-size="9.0" text-anchor="end" fill="#1c1c1c" stroke="#1c1c1c" stroke-width="0.15">STAT3i</text>
<text transform="translate(206.7 365.6) rotate(-90) scale(0.722 1)" font-size="10.4" text-anchor="middle" fill="#505050" stroke="#505050" stroke-width="0.16">% engraftment</text>
<line x1="243" y1="351.5" x2="243" y2="406" stroke="#2e2e2e" stroke-width="0.9" />
<line x1="239.2" y1="351.5" x2="247" y2="351.5" stroke="#2e2e2e" stroke-width="0.9" />
<line x1="240.5" y1="379" x2="245.7" y2="379" stroke="#2e2e2e" stroke-width="0.9" />
<circle cx="240" cy="341.5" r="1.55" fill="#CB082B"/>
<circle cx="246.3" cy="341.5" r="1.55" fill="#CB082B"/>
<circle cx="243" cy="373.3" r="1.55" fill="#CB082B"/>
<circle cx="243" cy="395.8" r="1.55" fill="#CB082B"/>
<circle cx="239.6" cy="399.2" r="1.55" fill="#CB082B"/>
<circle cx="246.4" cy="399.2" r="1.55" fill="#CB082B"/>
<circle cx="243" cy="402.9" r="1.55" fill="#CB082B"/>
<polyline points="243,336.3 243,331.5 267,331.5 267,392" fill="none" stroke="#303030" stroke-width="1.2"/>
<text x="255.3" y="331.1" font-size="7.7" text-anchor="middle" letter-spacing="0.6" fill="#0a0a0a" stroke="#0a0a0a" stroke-width="0.3">*</text>
<circle cx="267" cy="396.5" r="1.55" fill="#0C4F8C"/>
<circle cx="263.9" cy="401.2" r="1.55" fill="#0C4F8C"/>
<circle cx="267" cy="401.2" r="1.55" fill="#0C4F8C"/>
<circle cx="270" cy="401.2" r="1.55" fill="#0C4F8C"/>
<circle cx="260.6" cy="406" r="1.55" fill="#0C4F8C"/>
<circle cx="273.4" cy="406" r="1.55" fill="#0C4F8C"/>
<circle cx="263.9" cy="405.3" r="1.55" fill="#0C4F8C"/>
<circle cx="270" cy="405.3" r="1.55" fill="#0C4F8C"/>
<circle cx="267" cy="405.8" r="1.55" fill="#0C4F8C"/>
<line x1="264" y1="403.3" x2="270" y2="403.3" stroke="#2e2e2e" stroke-width="0.8" />
<text transform="translate(243 453.3) scale(0.765 1)" font-size="9.5" text-anchor="middle" fill="#3c3c3c" stroke="#3c3c3c" stroke-width="0.2">AML11</text>
<line x1="288" y1="365.8" x2="303" y2="365.8" stroke="#0a0a0a" stroke-width="1.15" />
<polygon points="307.3,365.8 301.8,362.4 301.8,369.2" fill="#0a0a0a"/>
<line x1="355.5" y1="324.9" x2="355.5" y2="407" stroke="#0c0c0c" stroke-width="1.1" />
<line x1="355" y1="406.5" x2="416.8" y2="406.5" stroke="#0c0c0c" stroke-width="1.15" />
<line x1="352.2" y1="325.4" x2="355.5" y2="325.4" stroke="#111" stroke-width="0.95" />
<text transform="translate(349.1 328.3) scale(0.930 1)" font-size="8.2" text-anchor="end" fill="#1c1c1c" stroke="#1c1c1c" stroke-width="0.12">100</text>
<line x1="352.2" y1="341.62" x2="355.5" y2="341.62" stroke="#111" stroke-width="0.95" />
<text transform="translate(349.1 344.52) scale(0.930 1)" font-size="8.2" text-anchor="end" fill="#1c1c1c" stroke="#1c1c1c" stroke-width="0.12">80</text>
<line x1="352.2" y1="357.84" x2="355.5" y2="357.84" stroke="#111" stroke-width="0.95" />
<text transform="translate(349.1 360.74) scale(0.930 1)" font-size="8.2" text-anchor="end" fill="#1c1c1c" stroke="#1c1c1c" stroke-width="0.12">60</text>
<line x1="352.2" y1="374.06" x2="355.5" y2="374.06" stroke="#111" stroke-width="0.95" />
<text transform="translate(349.1 376.96) scale(0.930 1)" font-size="8.2" text-anchor="end" fill="#1c1c1c" stroke="#1c1c1c" stroke-width="0.12">40</text>
<line x1="352.2" y1="390.28" x2="355.5" y2="390.28" stroke="#111" stroke-width="0.95" />
<text transform="translate(349.1 393.18) scale(0.930 1)" font-size="8.2" text-anchor="end" fill="#1c1c1c" stroke="#1c1c1c" stroke-width="0.12">20</text>
<line x1="352.2" y1="406.5" x2="355.5" y2="406.5" stroke="#111" stroke-width="0.95" />
<text transform="translate(349.1 409.4) scale(0.930 1)" font-size="8.2" text-anchor="end" fill="#1c1c1c" stroke="#1c1c1c" stroke-width="0.12">0</text>
<line x1="372.8" y1="406.5" x2="372.8" y2="409.8" stroke="#333" stroke-width="0.95" />
<text transform="translate(377.6 417) rotate(-45) scale(0.891 1)" font-size="9.0" text-anchor="end" fill="#1c1c1c" stroke="#1c1c1c" stroke-width="0.15">Ctl</text>
<line x1="399.1" y1="406.5" x2="399.1" y2="409.8" stroke="#333" stroke-width="0.95" />
<text transform="translate(403.9 417) rotate(-45) scale(0.914 1)" font-size="9.0" text-anchor="end" fill="#1c1c1c" stroke="#1c1c1c" stroke-width="0.15">STAT3i</text>
<text transform="translate(320.3 365.6) rotate(-90) scale(0.722 1)" font-size="10.4" text-anchor="middle" fill="#505050" stroke="#505050" stroke-width="0.16">% engraftment</text>
<text transform="translate(331.8 365.6) rotate(-90) scale(0.708 1)" font-size="10.4" text-anchor="middle" fill="#505050" stroke="#505050" stroke-width="0.16">secondary transplant</text>
<line x1="364.3" y1="364.3" x2="381.8" y2="364.3" stroke="#555" stroke-width="1.3" />
<circle cx="372.8" cy="332.3" r="1.55" fill="#CB082B"/>
<circle cx="372.8" cy="344.8" r="1.55" fill="#CB082B"/>
<circle cx="368" cy="360.8" r="1.55" fill="#CB082B"/>
<circle cx="377.5" cy="360.3" r="1.55" fill="#CB082B"/>
<circle cx="372.8" cy="362.5" r="1.55" fill="#CB082B"/>
<circle cx="372.8" cy="367" r="1.55" fill="#CB082B"/>
<circle cx="372.8" cy="370" r="1.55" fill="#CB082B"/>
<circle cx="377.5" cy="372.5" r="1.55" fill="#CB082B"/>
<circle cx="372.8" cy="373.5" r="1.55" fill="#CB082B"/>
<circle cx="372.8" cy="378" r="1.55" fill="#CB082B"/>
<polyline points="372.8,326.8 372.8,322.4 399.1,322.4 399.1,400.8" fill="none" stroke="#303030" stroke-width="1.2"/>
<text x="386.3" y="322.4" font-size="7.7" text-anchor="middle" letter-spacing="0.6" fill="#0a0a0a" stroke="#0a0a0a" stroke-width="0.3">****</text>
<circle cx="392.5" cy="406" r="1.3" fill="#0C4F8C"/>
<circle cx="394.8" cy="406" r="1.3" fill="#0C4F8C"/>
<circle cx="397.1" cy="406" r="1.3" fill="#0C4F8C"/>
<circle cx="399.4" cy="406" r="1.3" fill="#0C4F8C"/>
<circle cx="401.7" cy="406" r="1.3" fill="#0C4F8C"/>
<circle cx="404" cy="406" r="1.3" fill="#0C4F8C"/>
<circle cx="406.3" cy="406" r="1.3" fill="#0C4F8C"/>
<text transform="translate(385.8 453.3) scale(0.765 1)" font-size="9.5" text-anchor="middle" fill="#3c3c3c" stroke="#3c3c3c" stroke-width="0.2">AML11</text>
<line x1="456.4" y1="318.4" x2="456.4" y2="407" stroke="#0c0c0c" stroke-width="1.1" />
<line x1="455.9" y1="406.5" x2="510.5" y2="406.5" stroke="#0c0c0c" stroke-width="1.15" />
<line x1="453.1" y1="318.9" x2="456.4" y2="318.9" stroke="#111" stroke-width="0.95" />
<text transform="translate(450 321.8) scale(0.930 1)" font-size="8.2" text-anchor="end" fill="#1c1c1c" stroke="#1c1c1c" stroke-width="0.12">80</text>
<line x1="453.1" y1="340.8" x2="456.4" y2="340.8" stroke="#111" stroke-width="0.95" />
<text transform="translate(450 343.7) scale(0.930 1)" font-size="8.2" text-anchor="end" fill="#1c1c1c" stroke="#1c1c1c" stroke-width="0.12">60</text>
<line x1="453.1" y1="362.7" x2="456.4" y2="362.7" stroke="#111" stroke-width="0.95" />
<text transform="translate(450 365.6) scale(0.930 1)" font-size="8.2" text-anchor="end" fill="#1c1c1c" stroke="#1c1c1c" stroke-width="0.12">40</text>
<line x1="453.1" y1="384.6" x2="456.4" y2="384.6" stroke="#111" stroke-width="0.95" />
<text transform="translate(450 387.5) scale(0.930 1)" font-size="8.2" text-anchor="end" fill="#1c1c1c" stroke="#1c1c1c" stroke-width="0.12">20</text>
<line x1="453.1" y1="406.5" x2="456.4" y2="406.5" stroke="#111" stroke-width="0.95" />
<text transform="translate(450 409.4) scale(0.930 1)" font-size="8.2" text-anchor="end" fill="#1c1c1c" stroke="#1c1c1c" stroke-width="0.12">0</text>
<line x1="471.7" y1="406.5" x2="471.7" y2="409.8" stroke="#333" stroke-width="0.95" />
<text transform="translate(476.5 417) rotate(-45) scale(0.891 1)" font-size="9.0" text-anchor="end" fill="#1c1c1c" stroke="#1c1c1c" stroke-width="0.15">Ctl</text>
<line x1="495.2" y1="406.5" x2="495.2" y2="409.8" stroke="#333" stroke-width="0.95" />
<text transform="translate(500 417) rotate(-45) scale(0.914 1)" font-size="9.0" text-anchor="end" fill="#1c1c1c" stroke="#1c1c1c" stroke-width="0.15">STAT3i</text>
<text transform="translate(436.1 362.7) rotate(-90) scale(0.703 1)" font-size="10.4" text-anchor="middle" fill="#505050" stroke="#505050" stroke-width="0.16">% human blasts</text>
<line x1="464.3" y1="347.8" x2="479.8" y2="347.8" stroke="#555" stroke-width="1.3" />
<circle cx="472" cy="336.5" r="1.55" fill="#CB082B"/>
<circle cx="465.5" cy="340.5" r="1.55" fill="#CB082B"/>
<circle cx="478.5" cy="341" r="1.55" fill="#CB082B"/>
<circle cx="472" cy="343" r="1.55" fill="#CB082B"/>
<circle cx="472" cy="348.3" r="1.55" fill="#CB082B"/>
<circle cx="465.5" cy="350.3" r="1.55" fill="#CB082B"/>
<circle cx="478.5" cy="352" r="1.55" fill="#CB082B"/>
<circle cx="472" cy="352.8" r="1.55" fill="#CB082B"/>
<circle cx="472" cy="365.8" r="1.55" fill="#CB082B"/>
<polyline points="472,330 472,325.5 495.3,325.5 495.3,352.5" fill="none" stroke="#303030" stroke-width="1.2"/>
<text x="483.3" y="322.4" font-size="7.7" text-anchor="middle" letter-spacing="0.6" fill="#0a0a0a" stroke="#0a0a0a" stroke-width="0.3">****</text>
<line x1="487.5" y1="375.8" x2="503" y2="375.8" stroke="#555" stroke-width="1.3" />
<circle cx="495.3" cy="358.5" r="1.55" fill="#0C4F8C"/>
<circle cx="495.3" cy="360.8" r="1.55" fill="#0C4F8C"/>
<circle cx="488.8" cy="372.5" r="1.55" fill="#0C4F8C"/>
<circle cx="501.8" cy="374.5" r="1.55" fill="#0C4F8C"/>
<circle cx="495.3" cy="376" r="1.55" fill="#0C4F8C"/>
<circle cx="488.8" cy="383" r="1.55" fill="#0C4F8C"/>
<circle cx="495.3" cy="385" r="1.55" fill="#0C4F8C"/>
<circle cx="501.8" cy="385" r="1.55" fill="#0C4F8C"/>
<circle cx="495.3" cy="388" r="1.55" fill="#0C4F8C"/>
<text transform="translate(483.6 453.3) scale(0.749 1)" font-size="9.5" text-anchor="middle" fill="#3c3c3c" stroke="#3c3c3c" stroke-width="0.2">AML1</text>
</svg>
</body></html>
